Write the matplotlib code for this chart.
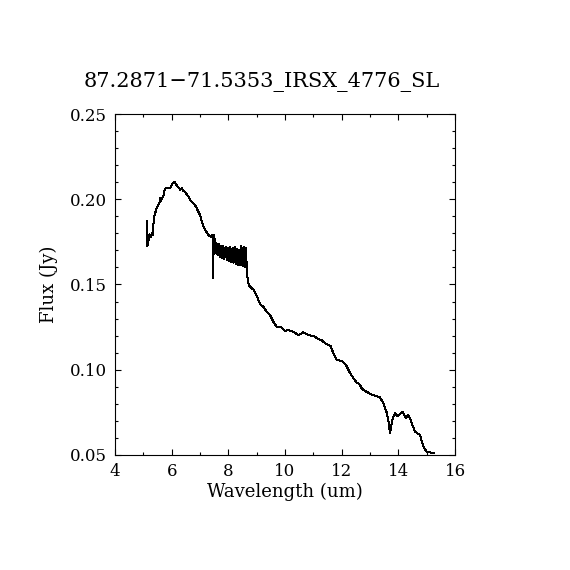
import matplotlib
matplotlib.use('Agg')
import matplotlib.pyplot as plt
from matplotlib.ticker import MultipleLocator

# spectrum
wave = [5.12, 5.14, 5.175, 5.21, 5.26, 5.306, 5.33, 5.35, 5.387, 5.447, 5.493, 5.564, 5.588,
        5.613, 5.659, 5.705, 5.74, 5.79, 5.881, 5.941, 6.001, 6.058, 6.107, 6.153, 6.199,
        6.259, 6.294, 6.365, 6.411, 6.471, 6.531, 6.601, 6.647, 6.707, 6.764, 6.824, 6.884,
        6.94, 7.0, 7.06, 7.117, 7.176, 7.236, 7.293, 7.353, 7.413,
        7.44, 7.45, 7.46, 7.47, 7.49, 7.51, 7.53, 7.55, 7.58, 7.62, 7.66, 7.70, 7.74, 7.78,
        7.82, 7.86, 7.90, 7.94, 7.98, 8.02, 8.06, 8.10, 8.14, 8.18, 8.22, 8.26, 8.30, 8.34,
        8.38, 8.42, 8.46, 8.50, 8.54, 8.58, 8.62, 8.66, 8.69,
        8.74, 8.825, 8.88, 8.976, 9.047, 9.118, 9.234, 9.354, 9.471, 9.587, 9.707, 9.884,
        10.0, 10.117, 10.293, 10.47, 10.59, 10.646, 10.822, 10.942, 11.059, 11.175, 11.295,
        11.412, 11.528, 11.613, 11.705, 11.825, 12.001, 12.153, 12.27, 12.411, 12.531,
        12.623, 12.707, 12.824, 12.94, 13.096, 13.293, 13.353, 13.47, 13.59, 13.646, 13.706,
        13.741, 13.801, 13.882, 13.964, 14.059, 14.154, 14.211, 14.26, 14.331, 14.387,
        14.472, 14.588, 14.67, 14.765, 14.846, 14.917, 15.001, 15.093, 15.178, 15.259]
flux = [0.1872, 0.1726, 0.1751, 0.1794, 0.1780, 0.1800, 0.1790, 0.1849, 0.1898, 0.1937, 0.1956,
        0.1976, 0.2006, 0.1986, 0.2009, 0.2015, 0.2048, 0.2064, 0.2068, 0.2064, 0.2084, 0.2099,
        0.2103, 0.2088, 0.2074, 0.2068, 0.2056, 0.2064, 0.2048, 0.2044, 0.2029, 0.2015, 0.1996,
        0.1986, 0.1976, 0.1966, 0.1947, 0.1927, 0.1908, 0.1868, 0.1843, 0.1824, 0.1805, 0.1790,
        0.1782, 0.1780,
        0.1792, 0.1538, 0.1785, 0.1700, 0.1788, 0.1680, 0.1770, 0.1690, 0.1745, 0.1672, 0.1740,
        0.1662, 0.1728, 0.1655, 0.1726, 0.1650, 0.1720, 0.1645, 0.1716, 0.1640, 0.1718, 0.1634,
        0.1712, 0.1628, 0.1722, 0.1622, 0.1710, 0.1616, 0.1705, 0.1612, 0.1726, 0.1608, 0.1722,
        0.1604, 0.1715, 0.1560, 0.1520,
        0.1491, 0.1478, 0.1472, 0.1444, 0.1415, 0.1384, 0.1370, 0.1340, 0.1321, 0.1282, 0.1252,
        0.1247, 0.1227, 0.1233, 0.1223, 0.1204, 0.1214, 0.1220, 0.1204, 0.1198, 0.1194, 0.1179,
        0.1174, 0.1155, 0.1145, 0.1139, 0.1096, 0.1057, 0.1051, 0.1028, 0.0989, 0.0950, 0.0924,
        0.0916, 0.0891, 0.0875, 0.0865, 0.0852, 0.0842, 0.0838, 0.0803, 0.0748, 0.0705, 0.0627,
        0.0666, 0.0715, 0.0745, 0.0729, 0.0740, 0.0754, 0.0735, 0.0715, 0.0735, 0.0725, 0.0686,
        0.0637, 0.0627, 0.0617, 0.0569, 0.0539, 0.0519, 0.0516, 0.0513, 0.0510]

title = '87.2871\u221271.5353_IRSX_4776_SL'

plt.rcParams['font.family'] = 'DejaVu Serif'

fig = plt.figure(figsize=(5.7, 5.7), dpi=100)
ax = fig.add_axes([0.2018, 0.2018, 0.5965, 0.5982])
ax.plot(wave, flux, color='black', lw=0.72, antialiased=False)

ax.set_xlim(4, 16)
ax.set_ylim(0.05, 0.25)
ax.xaxis.set_major_locator(MultipleLocator(2))
ax.xaxis.set_minor_locator(MultipleLocator(1))
ax.yaxis.set_major_locator(MultipleLocator(0.05))
ax.yaxis.set_minor_locator(MultipleLocator(0.01))
ax.yaxis.set_major_formatter(plt.FormatStrFormatter('%.2f'))
ax.tick_params(which='both', direction='in', top=True, right=True, labelsize=12, width=0.8)
ax.tick_params(which='major', length=4.3, pad=6)
ax.tick_params(which='minor', length=2.2)
for s in ax.spines.values():
    s.set_linewidth(0.8)

ax.set_xlabel('Wavelength (um)', fontsize=13, labelpad=2)
ax.set_ylabel('Flux (Jy)', fontsize=13, labelpad=8)
# title sits a bit left of the axes centre in the reference
fig.text(262 / 570, 1 - 82 / 570, title, fontsize=15, ha='center', va='center')

plt.savefig('out.png')
